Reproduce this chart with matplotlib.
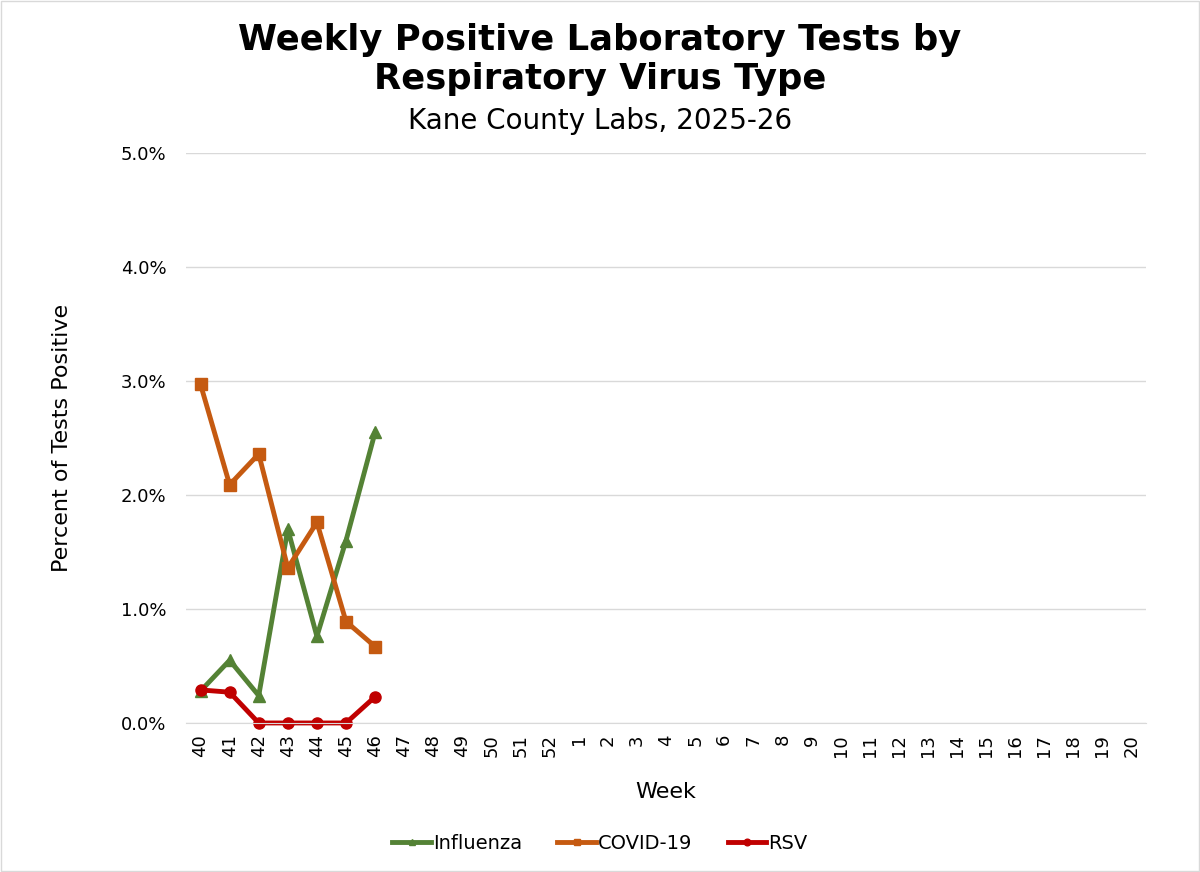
import matplotlib
matplotlib.use("Agg")
import matplotlib.pyplot as plt
from matplotlib.ticker import FuncFormatter, MultipleLocator
from matplotlib.patches import Rectangle

weeks = ["40", "41", "42", "43", "44", "45", "46", "47", "48", "49", "50", "51", "52",
         "1", "2", "3", "4", "5", "6", "7", "8", "9", "10", "11", "12", "13", "14",
         "15", "16", "17", "18", "19", "20"]
influenza = [0.28, 0.55, 0.24, 1.70, 0.76, 1.60, 2.55]
covid = [2.97, 2.09, 2.36, 1.36, 1.76, 0.89, 0.67]
rsv = [0.29, 0.27, 0.0, 0.0, 0.0, 0.0, 0.23]

plt.rcParams['font.family'] = ['DejaVu Sans']

fig = plt.figure(figsize=(12, 8.72), dpi=100)
ax = fig.add_axes([0.155, 0.1709, 0.8, 0.6536])

x = list(range(len(weeks)))
n = len(influenza)
ax.plot(x[:n], influenza, color="#548235", lw=3.5, marker="^", ms=8, label="Influenza", clip_on=False)
ax.plot(x[:n], covid, color="#C55A11", lw=3.5, marker="s", ms=8, label="COVID-19", clip_on=False)
ax.plot(x[:n], rsv, color="#C00000", lw=3.5, marker="o", ms=8, label="RSV", clip_on=False)

ax.set_xlim(-0.5, len(weeks) - 0.5)
ax.set_ylim(0, 5)
ax.yaxis.set_major_locator(MultipleLocator(1))
ax.yaxis.set_major_formatter(FuncFormatter(lambda v, p: f"{v:.1f}%"))
ax.set_xticks(x)
ax.set_xticklabels(weeks, rotation=90, fontsize=13)
ax.tick_params(axis='y', labelsize=13, length=0, pad=14)
ax.tick_params(axis='x', length=0, pad=8)
ax.grid(axis='y', color="#d9d9d9", lw=1)
ax.set_axisbelow(True)
for s in ["top", "right", "left"]:
    ax.spines[s].set_visible(False)
ax.spines["bottom"].set_color("#d9d9d9")

ax.set_xlabel("Week", fontsize=16, labelpad=18)
ax.set_ylabel("Percent of Tests Positive", fontsize=16, labelpad=35)

fig.text(0.5, 0.932, "Weekly Positive Laboratory Tests by\nRespiratory Virus Type",
         ha="center", va="center", fontsize=25.5, fontweight="bold", linespacing=1.2)
fig.text(0.5, 0.861, "Kane County Labs, 2025-26", ha="center", va="center", fontsize=20)

leg = fig.legend(loc="center", bbox_to_anchor=(0.5, 0.033), ncol=3, frameon=False,
                 fontsize=14, handlelength=2.0, handletextpad=0.1, columnspacing=1.8,
                 markerscale=0.6)

fig.patches.append(Rectangle((0.001, 0.001), 0.998, 0.998, transform=fig.transFigure,
                             fill=False, edgecolor="#d9d9d9", lw=1))

fig.savefig("out.png", dpi=100, facecolor="white")
